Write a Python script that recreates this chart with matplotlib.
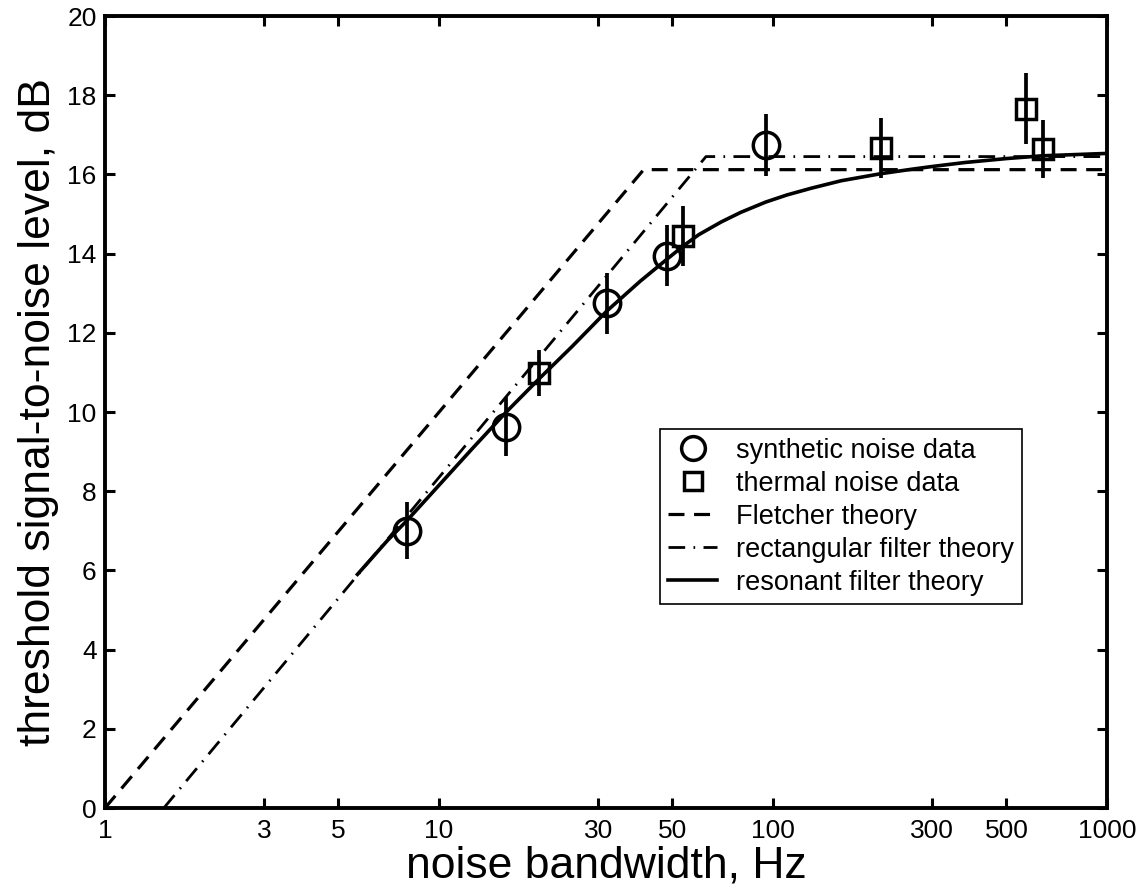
import matplotlib
matplotlib.use("Agg")
import matplotlib.pyplot as plt

plt.rcParams['font.family'] = ['Liberation Sans', 'DejaVu Sans']

# synthetic noise data (circles)
syn_bw = [8.0, 15.9, 31.8, 48.0, 95.0]
syn_snr = [7.0, 9.63, 12.74, 13.95, 16.75]
syn_err = [0.72, 0.75, 0.78, 0.78, 0.78]

# thermal noise data (squares)
th_bw = [19.9, 53.9, 211.0, 572.0, 642.0]
th_snr = [10.98, 14.45, 16.66, 17.66, 16.64]
th_err = [0.58, 0.76, 0.76, 0.9, 0.73]

# Fletcher theory
fl_bw = [1.0, 41.0, 1000.0]
fl_snr = [0.0, 16.12, 16.12]

# rectangular filter theory
rect_bw = [1.5, 63.0, 1000.0]
rect_snr = [0.0, 16.45, 16.45]

# resonant filter theory
res_bw = [5.7, 7.0, 8.0, 10.0, 12.5, 15.9, 20.0, 25.0, 31.8, 40.0, 48.0, 54.0,
          60.0, 70.0, 80.0, 95.0, 110.0, 130.0, 160.0, 211.0, 260.0, 300.0,
          375.0, 500.0, 642.0, 800.0, 1000.0]
res_snr = [5.9, 6.75, 7.25, 8.15, 9.05, 10.0, 10.85, 11.65, 12.55, 13.3, 13.85, 14.2,
           14.48, 14.8, 15.04, 15.3, 15.48, 15.65, 15.84, 16.02, 16.13, 16.2,
           16.3, 16.4, 16.47, 16.5, 16.53]

xticks = [1, 3, 5, 10, 30, 50, 100, 300, 500, 1000]
yticks = list(range(0, 21, 2))

fig = plt.figure(figsize=(11.46, 8.9), dpi=100)
ax = fig.add_axes([105 / 1146, 82 / 890, 1002 / 1146, 792 / 890])

ax.plot(fl_bw, fl_snr, color='k', lw=2.3, linestyle=(0, (5, 3)), label='Fletcher theory', zorder=2)
ax.plot(rect_bw, rect_snr, color='k', lw=2.0, linestyle=(0, (6, 3, 0.6, 3)),
        label='rectangular filter theory', zorder=2)
ax.plot(res_bw, res_snr, color='k', lw=2.6, linestyle='-', label='resonant filter theory', zorder=2)

ax.errorbar(syn_bw, syn_snr, yerr=syn_err, fmt='none', ecolor='k', elinewidth=2.7, capsize=0, zorder=3)
ax.errorbar(th_bw, th_snr, yerr=th_err, fmt='none', ecolor='k', elinewidth=2.7, capsize=0, zorder=3)
ax.plot(syn_bw, syn_snr, 'o', ms=19, mfc='none', mec='k', mew=2.5, label='synthetic noise data', zorder=4)
ax.plot(th_bw, th_snr, 's', ms=14, mfc='none', mec='k', mew=2.5, label='thermal noise data', zorder=4)

ax.set_xscale('log')
ax.set_xlim(1, 1000)
ax.set_ylim(0, 20)
ax.set_xticks(xticks)
ax.set_xticklabels([str(t) for t in xticks])
ax.xaxis.set_minor_locator(matplotlib.ticker.NullLocator())
ax.set_yticks(yticks)
ax.tick_params(direction='in', length=7, width=2.2, top=True, right=True, labelsize=19)
ax.tick_params(axis='x', pad=8)
ax.tick_params(axis='y', pad=6)
for s in ax.spines.values():
    s.set_linewidth(2.8)

ax.set_xlabel('noise bandwidth, Hz', fontsize=32, labelpad=2)
ax.set_ylabel('threshold signal-to-noise level, dB', fontsize=32, labelpad=6)

handles, labels = ax.get_legend_handles_labels()
order = [3, 4, 0, 1, 2]
leg = ax.legend([handles[i] for i in order], [labels[i] for i in order],
                loc='upper left', bbox_to_anchor=(0.554, 0.478), borderaxespad=0,
                fontsize=19.5, numpoints=1, handlelength=1.8, handletextpad=0.7,
                labelspacing=0.26, borderpad=0.3, fancybox=False, framealpha=1,
                edgecolor='k', markerscale=0.9)
leg.get_frame().set_linewidth(1.2)

fig.savefig('out.png', dpi=100)
